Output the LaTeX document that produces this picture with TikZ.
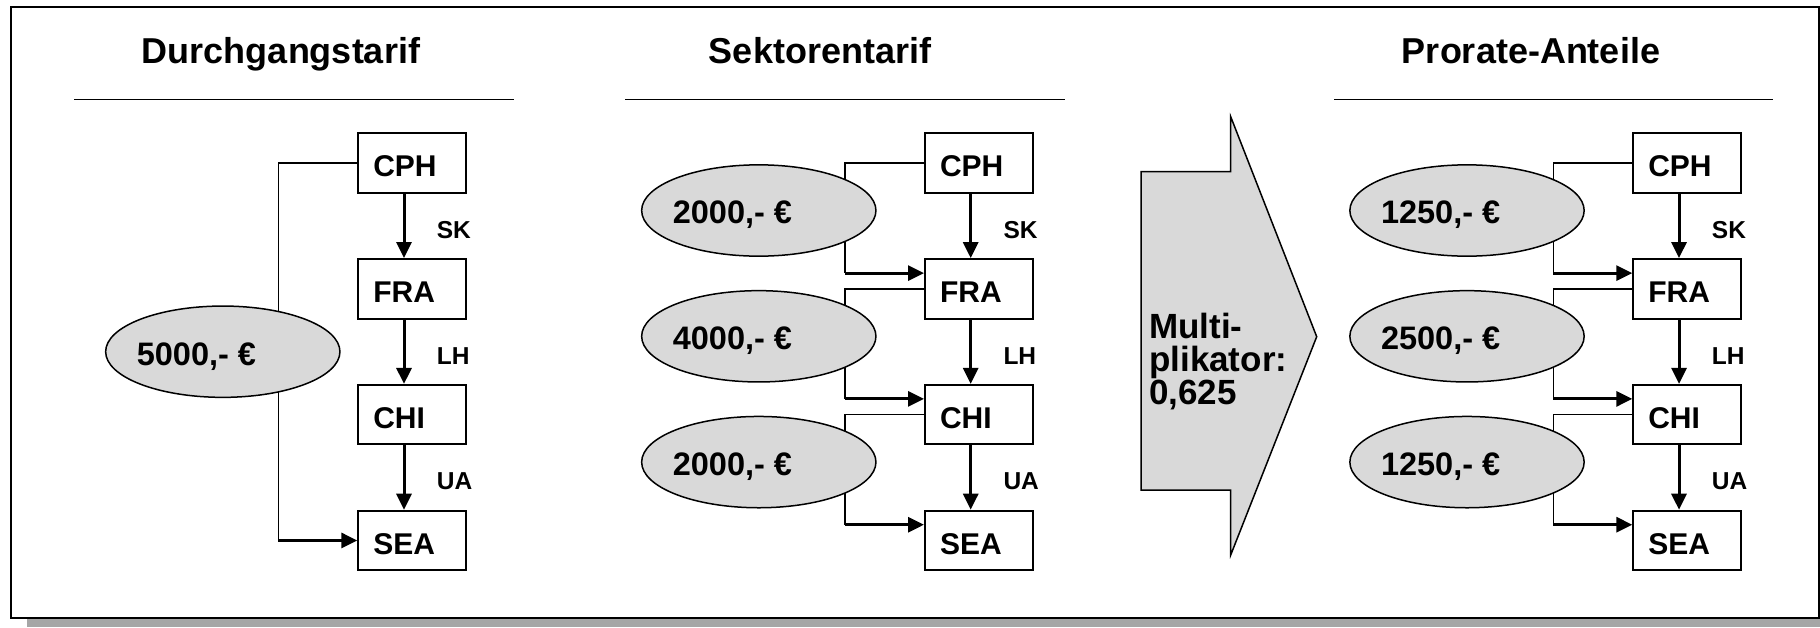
\documentclass[tikz,border=0pt]{standalone}
\usepackage{fontspec}
\setmainfont{Liberation Sans}
\usetikzlibrary{arrows.meta,shapes.geometric}
\definecolor{ellgray}{RGB}{217,217,217}
\definecolor{shadowgray}{RGB}{166,166,166}
\tikzset{
 box/.style={rectangle,draw,line width=2pt,fill=white,minimum height=59.5pt,text width=78pt,inner xsep=15pt,inner ysep=0pt,align=left,font=\fontsize{30}{30}\selectfont\bfseries,text height=27.4pt,text depth=0pt},
 ell/.style={ellipse,draw,line width=1.5pt,fill=ellgray,minimum width=234.3pt,minimum height=91.3pt,inner sep=0pt,font=\fontsize{32.5}{32.5}\selectfont\bfseries,text height=26.8pt,text depth=0pt},
 lab/.style={anchor=base west,inner sep=0pt,font=\fontsize{24.5}{24.5}\selectfont\bfseries},
 ttl/.style={anchor=base,inner sep=0pt,font=\fontsize{36}{36}\selectfont\bfseries},
 conn/.style={line width=3pt,-{Triangle[length=16pt,width=15pt]}},
 brk/.style={line width=1.5pt},
 rule/.style={line width=1.5pt},
 multi/.style={anchor=west,inner sep=0pt,align=left,font=\fontsize{35}{33}\selectfont\bfseries},
}
\newcommand{\eltext}[1]{\makebox[0pt][l]{\hspace*{-86pt}#1}}
\begin{document}
\begin{tikzpicture}[x=1pt,y=-1pt]
\useasboundingbox (0,0) rectangle (1820,627);
\clip (0,0) rectangle (1820,627);
\fill[white] (0,0) rectangle (1820,627);
% frame with shadow
\fill[shadowgray] (27,610) rectangle (1840,627);
\draw[line width=2pt,fill=white] (11,6.5) rectangle (1819,618);

% titles
\node[ttl] (t1) at (281,63) {Durchgangstarif};
\node[ttl] (t2) at (820,63) {Sektorentarif};
\node[ttl] (t3) at (1531,63) {Prorate-Anteile};
\draw[rule] (74,99.5) -- (513.6,99.5);
\draw[rule] (625,99.5) -- (1065,99.5);
\draw[rule] (1334.4,99.5) -- (1773.3,99.5);

% ---------- left panel ----------
\node[box] (a1) at (412.3,163.05) {CPH};
\node[box] (a2) at (412.3,288.85) {FRA};
\node[box] (a3) at (412.3,414.65) {CHI};
\node[box] (a4) at (412.3,540.45) {SEA};
\draw[conn] ([xshift=-8.3pt]a1.south) -- ([xshift=-8.3pt]a2.north);
\draw[conn] ([xshift=-8.3pt]a2.south) -- ([xshift=-8.3pt]a3.north);
\draw[conn] ([xshift=-8.3pt]a3.south) -- ([xshift=-8.3pt]a4.north);
\node[lab] (la1) at (436.7,238.3) {SK};
\node[lab] (la2) at (436.7,364.1) {LH};
\node[lab] (la3) at (436.7,489.9) {UA};
\coordinate (ca) at (278.3,540.45);
\draw[brk] (a1.west) -| (ca);
\draw[conn] (ca) -- (a4.west);
\node[ell] (ea) at (222.8,351.7) {\eltext{5000,- €}};

% ---------- middle panel ----------
\node[box] (b1) at (979,163.05) {CPH};
\node[box] (b2) at (979,288.85) {FRA};
\node[box] (b3) at (979,414.65) {CHI};
\node[box] (b4) at (979,540.45) {SEA};
\draw[conn] ([xshift=-8.3pt]b1.south) -- ([xshift=-8.3pt]b2.north);
\draw[conn] ([xshift=-8.3pt]b2.south) -- ([xshift=-8.3pt]b3.north);
\draw[conn] ([xshift=-8.3pt]b3.south) -- ([xshift=-8.3pt]b4.north);
\node[lab] (lb1) at (1003.3,238.3) {SK};
\node[lab] (lb2) at (1003.3,364.1) {LH};
\node[lab] (lb3) at (1003.3,489.9) {UA};
\coordinate (cb1) at (845,273.1);
\coordinate (cb2) at (845,398.9);
\coordinate (cb3) at (845,524.7);
\draw[brk] (b1.west) -| (cb1);
\draw[conn] (cb1) -- (cb1 -| b2.west);
\draw[brk] (b2.west) -| (cb2);
\draw[conn] (cb2) -- (cb2 -| b3.west);
\draw[brk] (b3.west) -| (cb3);
\draw[conn] (cb3) -- (cb3 -| b4.west);
\node[ell] (eb1) at (758.8,210.5) {\eltext{2000,- €}};
\node[ell] (eb2) at (758.8,336.3) {\eltext{4000,- €}};
\node[ell] (eb3) at (758.8,462.1) {\eltext{2000,- €}};

% ---------- multiplier arrow ----------
\draw[line width=1.5pt,fill=ellgray,line join=miter]
  (1141,171.7) -- (1230.7,171.7) -- (1230.7,116.7) -- (1316.7,336.7)
  -- (1230.7,555) -- (1230.7,490) -- (1141,490) -- cycle;
\node[multi] (mt) at (1149,362) {Multi-\\plikator:\\0,625};

% ---------- right panel ----------
\node[box] (c1) at (1687.3,163.05) {CPH};
\node[box] (c2) at (1687.3,288.85) {FRA};
\node[box] (c3) at (1687.3,414.65) {CHI};
\node[box] (c4) at (1687.3,540.45) {SEA};
\draw[conn] ([xshift=-8.3pt]c1.south) -- ([xshift=-8.3pt]c2.north);
\draw[conn] ([xshift=-8.3pt]c2.south) -- ([xshift=-8.3pt]c3.north);
\draw[conn] ([xshift=-8.3pt]c3.south) -- ([xshift=-8.3pt]c4.north);
\node[lab] (lc1) at (1711.7,238.3) {SK};
\node[lab] (lc2) at (1711.7,364.1) {LH};
\node[lab] (lc3) at (1711.7,489.9) {UA};
\coordinate (cc1) at (1553.3,273.1);
\coordinate (cc2) at (1553.3,398.9);
\coordinate (cc3) at (1553.3,524.7);
\draw[brk] (c1.west) -| (cc1);
\draw[conn] (cc1) -- (cc1 -| c2.west);
\draw[brk] (c2.west) -| (cc2);
\draw[conn] (cc2) -- (cc2 -| c3.west);
\draw[brk] (c3.west) -| (cc3);
\draw[conn] (cc3) -- (cc3 -| c4.west);
\node[ell] (ec1) at (1467,210.5) {\eltext{1250,- €}};
\node[ell] (ec2) at (1467,336.3) {\eltext{2500,- €}};
\node[ell] (ec3) at (1467,462.1) {\eltext{1250,- €}};
\end{tikzpicture}
\end{document}
